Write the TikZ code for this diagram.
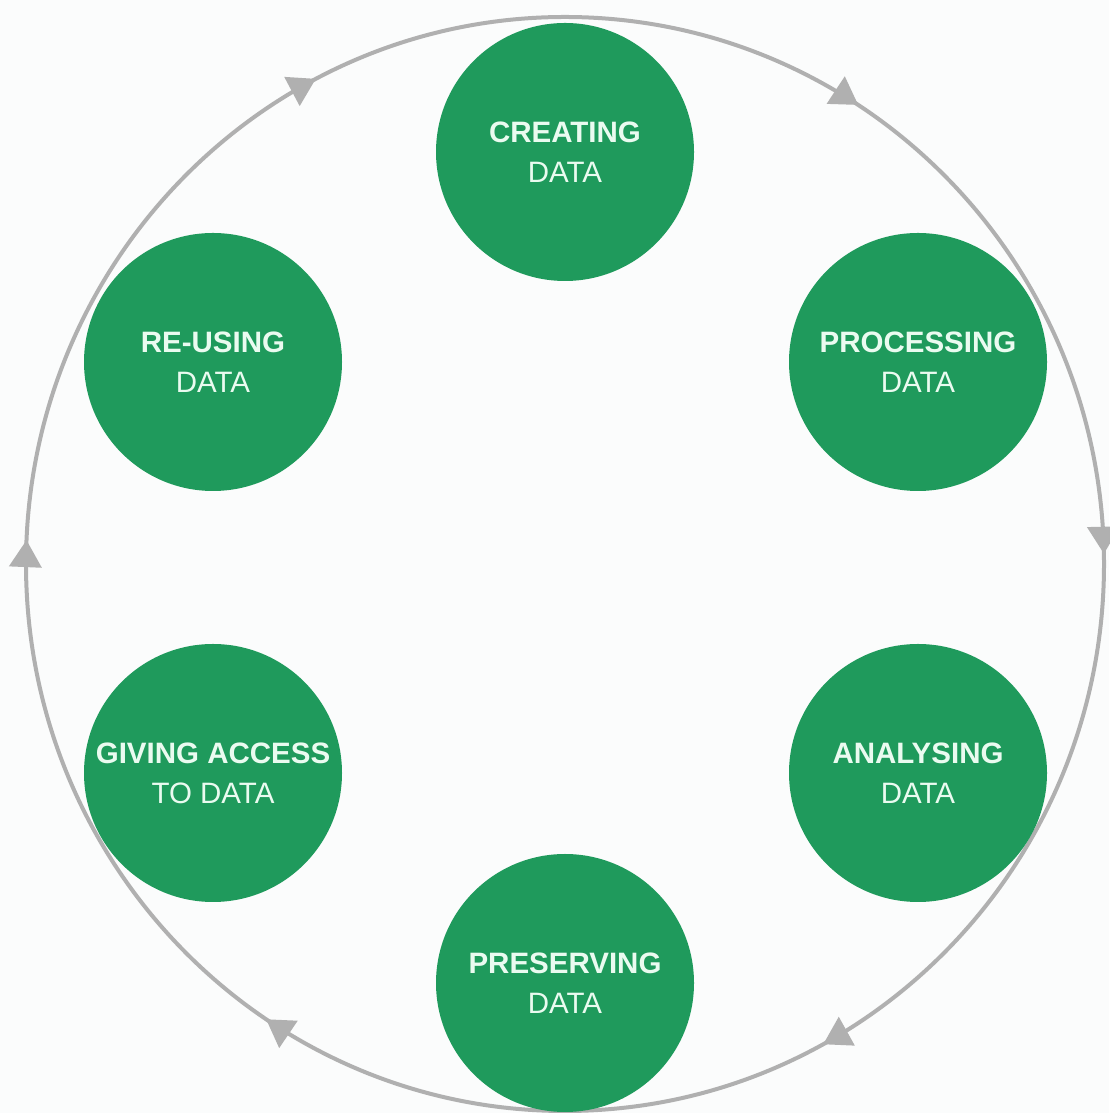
\documentclass[tikz,border=0pt]{standalone}
\usepackage{fontspec}
\setmainfont{Liberation Sans}
\usetikzlibrary{arrows.meta,decorations.markings}
\definecolor{bgc}{HTML}{FBFCFC}
\definecolor{ringc}{HTML}{B0B0B0}
\definecolor{greenc}{HTML}{1F9A5C}
\definecolor{txtc}{HTML}{EAFBF0}
\tikzset{
  stage/.style={circle, fill=greenc, minimum size=258pt, inner sep=0pt,
    text=txtc, align=center, font=\fontsize{29.5}{40}\selectfont},
  ringtip/.tip={Triangle[length=27pt,width=32pt]}
}
\begin{document}
\begin{tikzpicture}[x=1pt,y=1pt]
\fill[bgc] (0,0) rectangle (1109,1113);
\useasboundingbox (0,0) rectangle (1109,1113);
\coordinate (c) at (565,549);
% ring, drawn clockwise from the top
\draw[ringc, line width=4pt,
  postaction={decorate},
  decoration={markings,
    mark=at position 0.091 with {\arrow[ringc]{ringtip}},
    mark=at position 0.247 with {\arrow[ringc]{ringtip}},
    mark=at position 0.421 with {\arrow[ringc]{ringtip}},
    mark=at position 0.593 with {\arrow[ringc]{ringtip}},
    mark=at position 0.757 with {\arrow[ringc]{ringtip}},
    mark=at position 0.924 with {\arrow[ringc]{ringtip}}}]
  (c) ++(0,547) arc[start angle=90, end angle=-270, x radius=539, y radius=547];
\node[stage] (creating)   at (565,961) {\textbf{CREATING}\\DATA};
\node[stage] (processing) at (918,751) {\textbf{PROCESSING}\\DATA};
\node[stage] (analysing)  at (918,340) {\textbf{ANALYSING}\\DATA};
\node[stage] (preserving) at (565,130) {\textbf{PRESERVING}\\DATA};
\node[stage] (giving)     at (213,340) {\textbf{GIVING ACCESS}\\TO DATA};
\node[stage] (reusing)    at (213,751) {\textbf{RE-USING}\\DATA};
\end{tikzpicture}
\end{document}
